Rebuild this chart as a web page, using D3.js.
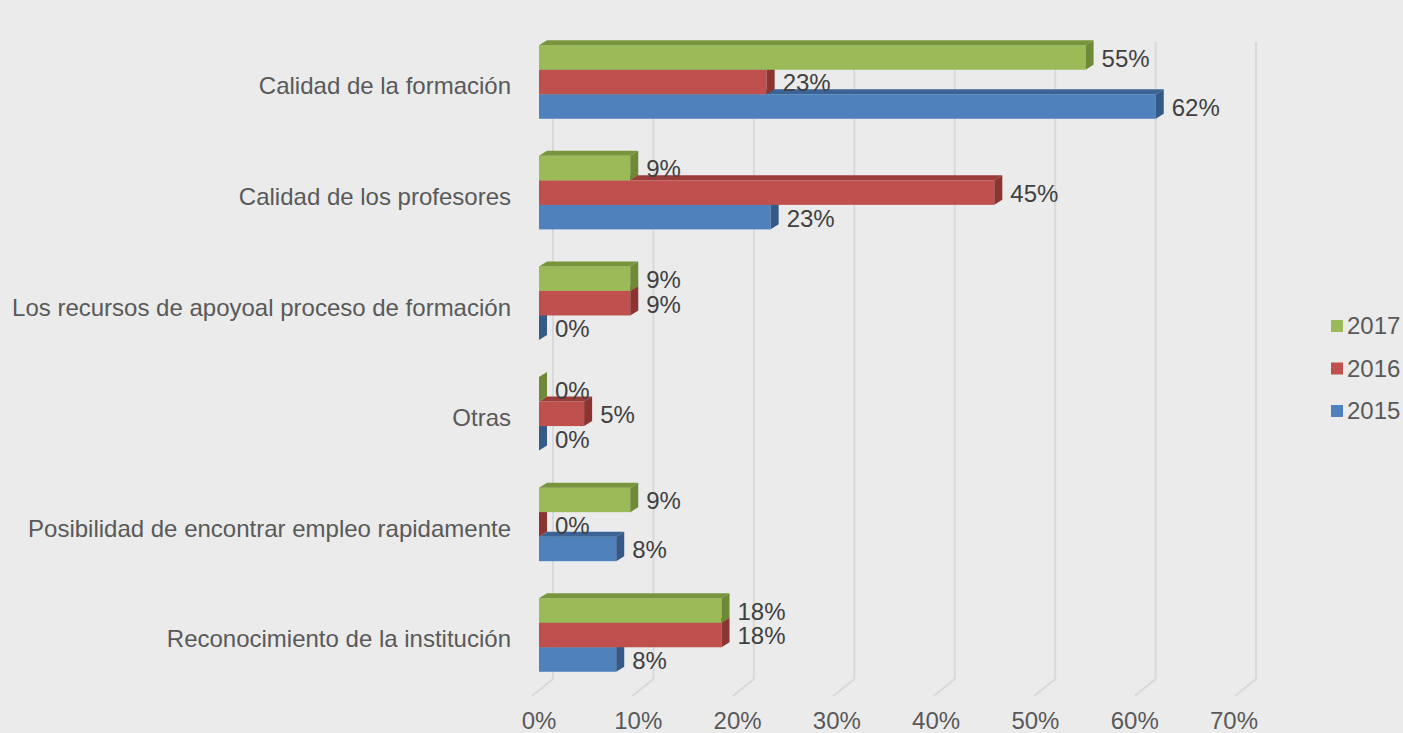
<!DOCTYPE html>
<html>
<head>
<meta charset="utf-8">
<script src="https://cdn.jsdelivr.net/npm/d3@7"></script>
<style>
  html, body { margin: 0; padding: 0; background: #ebebeb; }
  svg { display: block; font-family: "Liberation Sans", Arial, sans-serif; }
</style>
</head>
<body>
<svg id="chart" width="1403" height="733"></svg>
<script>
// data (bar lengths; labels show them rounded)
const categories = [
    "Calidad de la formación",
    "Calidad de los profesores",
    "Los recursos de apoyoal proceso de formación",
    "Otras",
    "Posibilidad de encontrar empleo rapidamente",
    "Reconocimiento de la institución"
];
const series = ["2017", "2016", "2015"];
const values2017 = [54.5, 9.1, 9.1, 0, 9.1, 18.2];
const values2016 = [22.7, 45.4, 9.1, 4.5, 0, 18.2];
const values2015 = [61.5, 23.1, 0, 0, 7.7, 7.7];
const xTicks = [0, 10, 20, 30, 40, 50, 60, 70];

const seriesValues = {"2017": values2017, "2016": values2016, "2015": values2015};
const colors = {
    "2017": {front: "#9bbb59", top: "#78953d", side: "#6e8a36"},
    "2016": {front: "#c0504d", top: "#9a3c39", side: "#8c3431"},
    "2015": {front: "#4f81bd", top: "#3b6396", side: "#365a87"}
};

let svg = d3.select("#chart");

// depth of the 3d bars
let depth = {dx: 8, dy: -5};

// front plane (bars), back wall (gridlines), and axis label positions
let x = d3.scaleLinear().domain([0, 70]).range([539, 1241]);
let xBack = d3.scaleLinear().domain([0, 70]).range([553, 1256]);
let xLabel = d3.scaleLinear().domain([0, 70]).range([539, 1234]);

let y = d3.scaleBand().domain(categories).range([26.7, 690.3])
    .paddingInner(0.335).paddingOuter(0.1675);
let ys = d3.scaleBand().domain(series).range([0, y.bandwidth()]);

/*** gridlines (back wall + floor) ***/
svg.append("g").attr("id", "grid")
    .selectAll("path.gridline")
    .data(xTicks).enter()
    .append("path")
    .classed("gridline", true)
    .attr("d", (d) => `M${xBack(d)},42 L${xBack(d)},679 L${xBack(d) - 21},696`)
    .attr("fill", "none")
    .attr("stroke", "#d9d9d9")
    .attr("stroke-width", 2);

/*** x tick labels ***/
svg.append("g").selectAll("text.tick-label")
    .data(xTicks).enter()
    .append("text")
    .classed("tick-label", true)
    .attr("x", (d) => xLabel(d))
    .attr("y", 729)
    .attr("text-anchor", "middle")
    .attr("font-size", "24px")
    .attr("fill", "#595959")
    .text((d) => d + "%");

/*** category labels ***/
svg.append("g").selectAll("text.cat-label")
    .data(categories).enter()
    .append("text")
    .classed("cat-label", true)
    .attr("x", 511)
    .attr("y", (d) => y(d) + y.bandwidth() / 2 + 4)
    .attr("dy", "0.35em")
    .attr("text-anchor", "end")
    .attr("font-size", "24px")
    .attr("fill", "#595959")
    .text((d) => d);

/*** bars, drawn bottom first so upper bars hide lower top faces ***/
let bars = [];
categories.forEach((c, i) => {
    series.slice().reverse().forEach((s) => {
        bars.push({cat: c, series: s, value: seriesValues[s][i]});
    });
});

const bx0 = (d) => x(0);
const bx1 = (d) => x(d.value);
const by = (d) => y(d.cat) + ys(d.series);
const bh = ys.bandwidth();

let bar = svg.append("g").attr("id", "bars")
    .selectAll("g.bar")
    .data(bars).enter()
    .append("g")
    .classed("bar", true);

bar.append("rect")
    .attr("x", bx0)
    .attr("y", by)
    .attr("width", (d) => bx1(d) - bx0(d))
    .attr("height", bh)
    .attr("fill", (d) => colors[d.series].front);

bar.append("path")
    .attr("d", (d) => {
        let a = bx0(d), b = bx1(d), t = by(d);
        return `M${a},${t} L${a + depth.dx},${t + depth.dy} L${b + depth.dx},${t + depth.dy} L${b},${t} Z`;
    })
    .attr("fill", (d) => colors[d.series].top);

bar.append("path")
    .attr("d", (d) => {
        let b = bx1(d), t = by(d);
        return `M${b},${t} L${b + depth.dx},${t + depth.dy} L${b + depth.dx},${t + bh + depth.dy} L${b},${t + bh} Z`;
    })
    .attr("fill", (d) => colors[d.series].side);

/*** value labels ***/
svg.append("g").selectAll("text.value-label")
    .data(bars).enter()
    .append("text")
    .classed("value-label", true)
    .attr("x", (d) => bx1(d) + 16)
    .attr("y", (d) => by(d) + bh / 2 + 1)
    .attr("dy", "0.35em")
    .attr("font-size", "24px")
    .attr("fill", "#404040")
    .text((d) => Math.round(d.value) + "%");

/*** legend ***/
let legend = svg.append("g").attr("id", "legend")
    .selectAll("g.item")
    .data(series).enter()
    .append("g")
    .classed("item", true)
    .attr("transform", (d, i) => `translate(1331, ${320 + i * 42.5})`);

legend.append("rect")
    .attr("width", 12)
    .attr("height", 12)
    .attr("fill", (d) => colors[d].front);

legend.append("text")
    .attr("x", 16)
    .attr("y", 6)
    .attr("dy", "0.35em")
    .attr("font-size", "24px")
    .attr("fill", "#595959")
    .text((d) => d);
</script>
</body>
</html>
